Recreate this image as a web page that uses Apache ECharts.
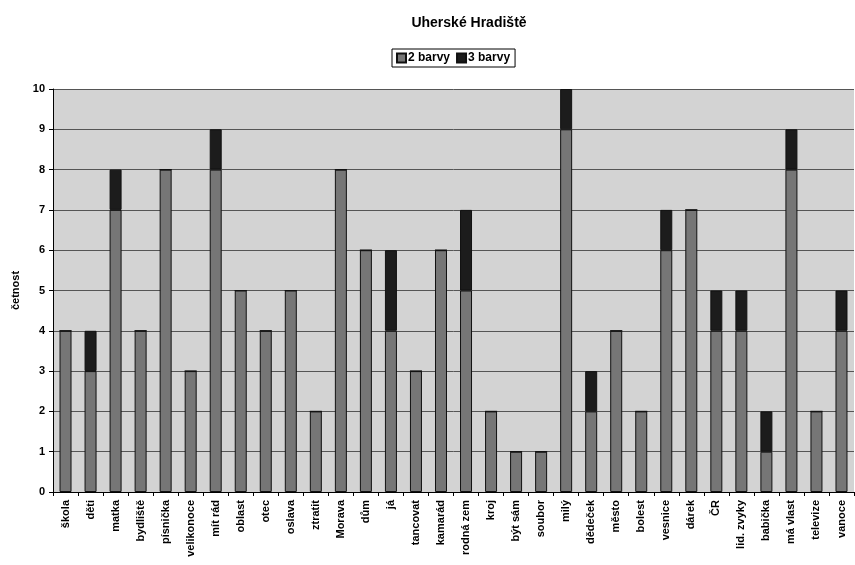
<!DOCTYPE html>
<html>
<head>
<meta charset="utf-8">
<title>Uherské Hradiště</title>
<script src="https://cdn.jsdelivr.net/npm/echarts@6/dist/echarts.min.js"></script>
<style>
    html, body { margin: 0; padding: 0; background: #fff; }
    #chart { width: 855px; height: 565px; }
</style>
</head>
<body>
<div id="chart"></div>
<script>
var categories = ["škola", "děti", "matka", "bydliště", "písnička", "velikonoce", "mít rád", "oblast",
    "otec", "oslava", "ztratit", "Morava", "dům", "já", "tancovat", "kamarád", "rodná zem", "kroj",
    "být sám", "soubor", "milý", "dědeček", "město", "bolest", "vesnice", "dárek", "ČR", "lid. zvyky",
    "babička", "má vlast", "televize", "vanoce"];
var dvaBarvy = [4, 3, 7, 4, 8, 3, 8, 5, 4, 5, 2, 8, 6, 4, 3, 6, 5, 2, 1, 1, 9, 2, 4, 2, 6, 7, 4, 4, 1, 8, 2, 4];
var triBarvy = [0, 1, 1, 0, 0, 0, 1, 0, 0, 0, 0, 0, 0, 2, 0, 0, 2, 0, 0, 0, 1, 1, 0, 0, 1, 0, 1, 1, 1, 1, 0, 1];
var yTicks = [0, 10, 1];

var font = "'Liberation Sans', Arial, sans-serif";
var chart = echarts.init(document.getElementById("chart"));

var option = {
    animation: false,
    textStyle: { fontFamily: font },
    title: {
        text: "Uherské Hradiště",
        left: 464,
        textAlign: "center",
        top: 11,
        textStyle: { fontSize: 14, fontWeight: "bold", color: "#000" }
    },
    legend: {
        data: ["2 barvy", "3 barvy"],
        left: 392,
        top: 49,
        icon: "rect",
        itemWidth: 9,
        itemHeight: 9,
        itemGap: 6,
        padding: [3, 5, 3, 4],
        borderColor: "#000",
        borderWidth: 1,
        textStyle: { fontSize: 12, fontWeight: "bold", color: "#000", padding: [0, 0, 0, -3] }
    },
    grid: {
        left: 53,
        right: 1,
        top: 89,
        bottom: 73,
        outerBoundsMode: "none",
        show: true,
        backgroundColor: "#d3d3d3",
        borderWidth: 0
    },
    xAxis: {
        type: "category",
        data: categories,
        axisLine: { lineStyle: { color: "#000", width: 1 } },
        axisTick: { show: true, length: 4, lineStyle: { color: "#000" } },
        axisLabel: {
            rotate: 90,
            interval: 0,
            fontSize: 11,
            fontWeight: "bold",
            color: "#000",
            margin: 8
        }
    },
    yAxis: {
        type: "value",
        min: yTicks[0],
        max: yTicks[1],
        interval: yTicks[2],
        name: "četnost",
        nameLocation: "middle",
        nameGap: 30,
        nameTextStyle: { fontSize: 11, fontWeight: "bold", color: "#000" },
        axisLine: { show: true, lineStyle: { color: "#000", width: 1 } },
        axisTick: { show: true, length: 4, lineStyle: { color: "#000" } },
        axisLabel: { fontSize: 11, fontWeight: "bold", color: "#000", margin: 8 },
        splitLine: { show: true, lineStyle: { color: "#555", width: 1 } }
    },
    series: [
        {
            name: "2 barvy",
            type: "bar",
            stack: "total",
            barWidth: 12,
            data: dvaBarvy,
            itemStyle: { color: "#767676", borderColor: "#111", borderWidth: 1 }
        },
        {
            name: "3 barvy",
            type: "bar",
            stack: "total",
            barWidth: 12,
            data: triBarvy,
            itemStyle: { color: "#1c1c1c", borderColor: "#111", borderWidth: 1 }
        }
    ]
};

chart.setOption(option);
</script>
</body>
</html>
